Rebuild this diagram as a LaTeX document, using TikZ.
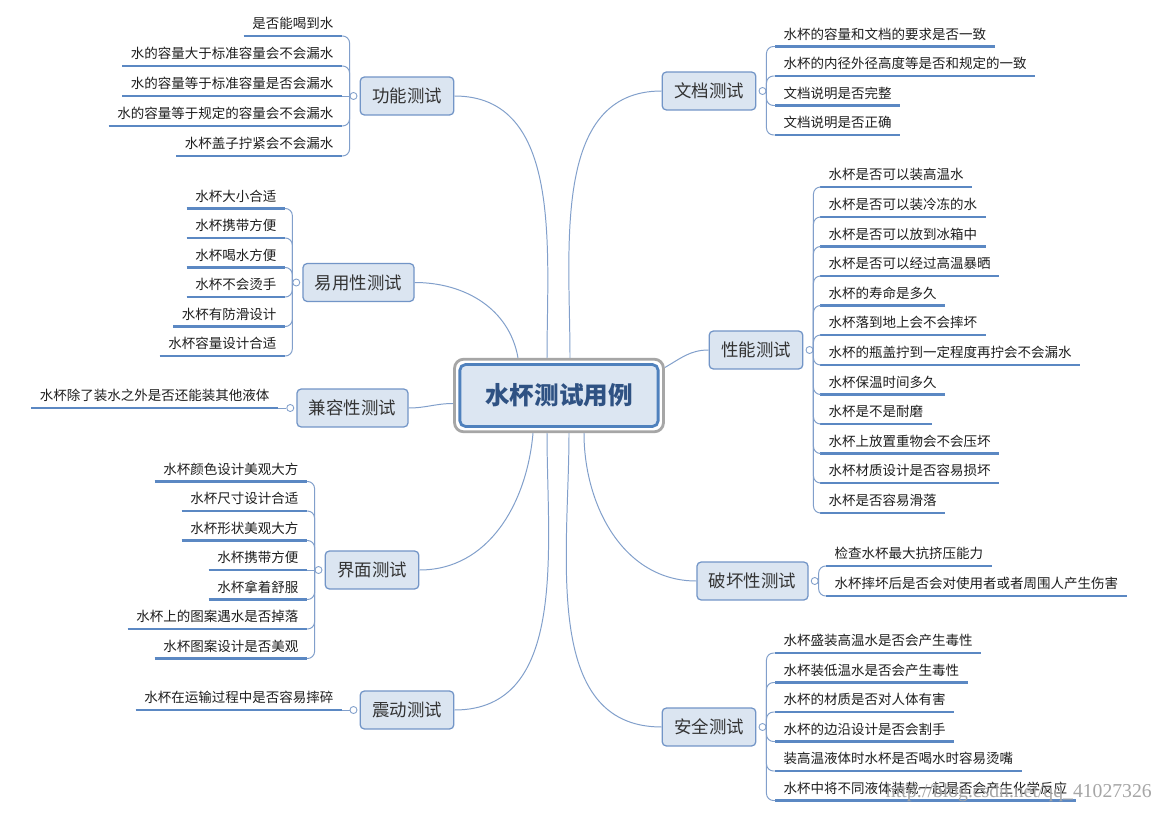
\documentclass[tikz,border=0pt]{standalone}
\usepackage{fontspec}
\setmainfont{Noto Sans CJK SC}
\newfontfamily\wmfont{Liberation Serif}
\usepackage{tikz}
\usetikzlibrary{positioning,calc,fit}
\definecolor{rootCol}{HTML}{DCE6F2}
\definecolor{rootEdge}{HTML}{4F81BD}
\definecolor{rootFrame}{HTML}{A6A6A6}
\definecolor{rootText}{HTML}{2F5283}
\definecolor{topCol}{HTML}{DBE5F1}
\definecolor{topEdge}{HTML}{7295C7}
\definecolor{lineCol}{HTML}{819FCB}
\definecolor{ulCol}{HTML}{5B88C3}
\definecolor{leafText}{HTML}{1E1E1E}
\tikzset{
  root/.style={draw=rootEdge, fill=rootCol, line width=2pt, rounded corners=4pt,
        font=\fontsize{17.5}{20}\selectfont\bfseries, text=rootText,
        minimum width=141pt, minimum height=44pt},
  rootframe/.style={draw=rootFrame, line width=2pt, rounded corners=6.5pt, inner sep=2.8pt},
  topic/.style={draw=topEdge, fill=topCol, line width=0.9pt, rounded corners=3pt,
        font=\fontsize{12.4}{14}\selectfont, text=black!80, inner xsep=8.5pt,
        minimum height=27pt},
  hdl/.style={circle, draw=lineCol, fill=white, line width=0.6pt, inner sep=0pt, minimum size=5pt},
  uline/.style={draw=ulCol, line width=1.8pt},
  leaf/.style={font=\fontsize{9.6}{11}\selectfont, text=leafText, inner xsep=6pt,
        inner ysep=3pt, text height=8pt, text depth=2pt,
        append after command={(\tikzlastnode.south west) edge[uline] (\tikzlastnode.south east)}},
  leafL/.style={leaf, anchor=south east},
  leafR/.style={leaf, anchor=south west},
  link/.style={draw=lineCol, line width=0.7pt},
  br/.style={link, rounded corners=5pt, to path={(\tikztostart) |- (\tikztotarget)}},
  wmark/.style={font=\wmfont\fontsize{14}{16}\selectfont, text=black!35, inner sep=0pt},
}

\begin{document}
\begin{tikzpicture}[x=0.025cm, y=-0.025cm]
  \path[use as bounding box, fill=white] (0,0) rectangle (1164,813);
  % centre
  \node[root] (root) at (559,395.5) {水杯测试用例};
  \node[rootframe, fit=(root)] (rootF) {};
  % topics
  \node[topic] (gn) at (407,96) {功能测试};
  \node[topic] (yy) at (358.5,282.5) {易用性测试};
  \node[topic] (jr) at (352.5,408) {兼容性测试};
  \node[topic] (jm) at (372,570) {界面测试};
  \node[topic] (zd) at (407,710) {震动测试};
  \node[topic] (wd) at (709,91) {文档测试};
  \node[topic] (xn) at (756,350) {性能测试};
  \node[topic] (ph) at (752.5,581) {破坏性测试};
  \node[topic] (aq) at (709,727) {安全测试};
  \node[hdl, left=1.5pt of gn] (gnH) {};
  \node[hdl, left=1.5pt of yy] (yyH) {};
  \node[hdl, left=1.5pt of jr] (jrH) {};
  \node[hdl, left=1.5pt of jm] (jmH) {};
  \node[hdl, left=1.5pt of zd] (zdH) {};
  \node[hdl, right=1.5pt of wd] (wdH) {};
  \node[hdl, right=1.5pt of xn] (xnH) {};
  \node[hdl, right=1.5pt of ph] (phH) {};
  \node[hdl, right=1.5pt of aq] (aqH) {};
  % centre to topics
  \draw[link] ($(rootF.north)+(-41,0)$) to[out=100,in=0] (yy.east);
  \draw[link] ($(rootF.north)+(-12,0)$) to[out=90,in=0] (gn.east);
  \draw[link] ($(rootF.north)+(11,0)$) to[out=90,in=180] (wd.west);
  \draw[link] ($(rootF.east)+(0,-28)$) to[out=30,in=180] (xn.west);
  \draw[link] ($(rootF.west)+(0,8)$) to[out=180,in=0] (jr.east);
  \draw[link] ($(rootF.south)+(-26,0)$) to[out=-95,in=0] (jm.east);
  \draw[link] ($(rootF.south)+(-12,0)$) to[out=-90,in=0] (zd.east);
  \draw[link] ($(rootF.south)+(10,0)$) to[out=-90,in=180] (aq.west);
  \draw[link] ($(rootF.south)+(25,0)$) to[out=-90,in=180] (ph.west);
  % left: 功能测试
  \node[leafL] (gn1) at (342,36) {是否能喝到水};
  \node[leafL] (gn2) at (342,66) {水的容量大于标准容量会不会漏水};
  \node[leafL] (gn3) at (342,96) {水的容量等于标准容量是否会漏水};
  \node[leafL] (gn4) at (342,126) {水的容量等于规定的容量会不会漏水};
  \node[leafL] (gn5) at (342,156) {水杯盖子拧紧会不会漏水};
  \draw[br] (gnH.west) to (gn1.south east); \draw[br] (gnH.west) to (gn2.south east);
  \draw[link] (gnH.west) -- (gn3.south east);
  \draw[br] (gnH.west) to (gn4.south east); \draw[br] (gnH.west) to (gn5.south east);
  % left: 易用性测试
  \node[leafL] (yy1) at (285,208.5) {水杯大小合适};
  \node[leafL] (yy2) at (285,238) {水杯携带方便};
  \node[leafL] (yy3) at (285,267.5) {水杯喝水方便};
  \node[leafL] (yy4) at (285,297) {水杯不会烫手};
  \node[leafL] (yy5) at (285,326.5) {水杯有防滑设计};
  \node[leafL] (yy6) at (285,356) {水杯容量设计合适};
  \draw[br] (yyH.west) to (yy1.south east); \draw[br] (yyH.west) to (yy2.south east);
  \draw[br] (yyH.west) to (yy3.south east); \draw[br] (yyH.west) to (yy4.south east);
  \draw[br] (yyH.west) to (yy5.south east); \draw[br] (yyH.west) to (yy6.south east);
  % left: 兼容性测试
  \node[leafL] (jr1) at (278,408) {水杯除了装水之外是否还能装其他液体};
  \draw[link] (jrH.west) -- (jr1.south east);
  % left: 界面测试
  \node[leafL] (jm1) at (307,481.5) {水杯颜色设计美观大方};
  \node[leafL] (jm2) at (307,511) {水杯尺寸设计合适};
  \node[leafL] (jm3) at (307,540.5) {水杯形状美观大方};
  \node[leafL] (jm4) at (307,570) {水杯携带方便};
  \node[leafL] (jm5) at (307,599.5) {水杯拿着舒服};
  \node[leafL] (jm6) at (307,629) {水杯上的图案遇水是否掉落};
  \node[leafL] (jm7) at (307,658.5) {水杯图案设计是否美观};
  \draw[br] (jmH.west) to (jm1.south east); \draw[br] (jmH.west) to (jm2.south east);
  \draw[br] (jmH.west) to (jm3.south east); \draw[link] (jmH.west) -- (jm4.south east);
  \draw[br] (jmH.west) to (jm5.south east); \draw[br] (jmH.west) to (jm6.south east);
  \draw[br] (jmH.west) to (jm7.south east);
  % left: 震动测试
  \node[leafL] (zd1) at (342,710) {水杯在运输过程中是否容易摔碎};
  \draw[link] (zdH.west) -- (zd1.south east);
  % right: 文档测试
  \node[leafR] (wd1) at (775,46.5) {水杯的容量和文档的要求是否一致};
  \node[leafR] (wd2) at (775,76) {水杯的内径外径高度等是否和规定的一致};
  \node[leafR] (wd3) at (775,105.5) {文档说明是否完整};
  \node[leafR] (wd4) at (775,135) {文档说明是否正确};
  \draw[br] (wdH.east) to (wd1.south west); \draw[br] (wdH.east) to (wd2.south west);
  \draw[br] (wdH.east) to (wd3.south west); \draw[br] (wdH.east) to (wd4.south west);
  % right: 性能测试
  \node[leafR] (xn1) at (820,187) {水杯是否可以装高温水};
  \node[leafR] (xn2) at (820,217) {水杯是否可以装冷冻的水};
  \node[leafR] (xn3) at (820,246.5) {水杯是否可以放到冰箱中};
  \node[leafR] (xn4) at (820,276) {水杯是否可以经过高温暴晒};
  \node[leafR] (xn5) at (820,305.5) {水杯的寿命是多久};
  \node[leafR] (xn6) at (820,335) {水杯落到地上会不会摔坏};
  \node[leafR] (xn7) at (820,365) {水杯的瓶盖拧到一定程度再拧会不会漏水};
  \node[leafR] (xn8) at (820,394.5) {水杯保温时间多久};
  \node[leafR] (xn9) at (820,424) {水杯是不是耐磨};
  \node[leafR] (xn10) at (820,453.5) {水杯上放置重物会不会压坏};
  \node[leafR] (xn11) at (820,483) {水杯材质设计是否容易损坏};
  \node[leafR] (xn12) at (820,513) {水杯是否容易滑落};
  \draw[br] (xnH.east) to (xn1.south west); \draw[br] (xnH.east) to (xn2.south west);
  \draw[br] (xnH.east) to (xn3.south west); \draw[br] (xnH.east) to (xn4.south west);
  \draw[br] (xnH.east) to (xn5.south west); \draw[br] (xnH.east) to (xn6.south west);
  \draw[br] (xnH.east) to (xn7.south west); \draw[br] (xnH.east) to (xn8.south west);
  \draw[br] (xnH.east) to (xn9.south west); \draw[br] (xnH.east) to (xn10.south west);
  \draw[br] (xnH.east) to (xn11.south west); \draw[br] (xnH.east) to (xn12.south west);
  % right: 破坏性测试
  \node[leafR] (ph1) at (826,566) {检查水杯最大抗挤压能力};
  \node[leafR] (ph2) at (826,596) {水杯摔坏后是否会对使用者或者周围人产生伤害};
  \draw[br] (phH.east) to (ph1.south west); \draw[br] (phH.east) to (ph2.south west);
  % right: 安全测试
  \node[leafR] (aq1) at (775,653) {水杯盛装高温水是否会产生毒性};
  \node[leafR] (aq2) at (775,682.5) {水杯装低温水是否会产生毒性};
  \node[leafR] (aq3) at (775,712) {水杯的材质是否对人体有害};
  \node[leafR] (aq4) at (775,741.5) {水杯的边沿设计是否会割手};
  \node[leafR] (aq5) at (775,771) {装高温液体时水杯是否喝水时容易烫嘴};
  \node[leafR] (aq6) at (775,800.5) {水杯中将不同液体装载一起是否会产生化学反应};
  \draw[br] (aqH.east) to (aq1.south west); \draw[br] (aqH.east) to (aq2.south west);
  \draw[br] (aqH.east) to (aq3.south west); \draw[br] (aqH.east) to (aq4.south west);
  \draw[br] (aqH.east) to (aq5.south west); \draw[br] (aqH.east) to (aq6.south west);
  % watermark
  \node[wmark, anchor=east] (wm) at (1152,793) {http://blog.csdn.net/qq\_41027326};
\end{tikzpicture}
\end{document}
